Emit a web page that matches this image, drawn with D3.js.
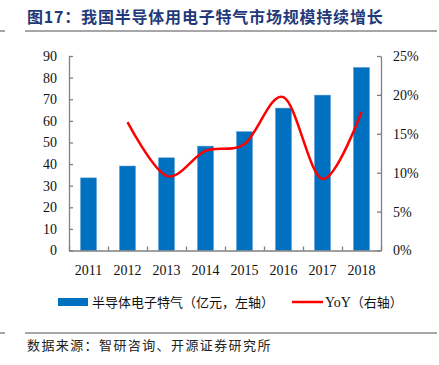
<!DOCTYPE html>
<html><head><meta charset="utf-8">
<script src="https://cdn.jsdelivr.net/npm/d3@7/dist/d3.min.js"></script>
<style>body{margin:0;background:#fff}</style>
</head><body>
<svg id="c" width="439" height="365"></svg>
<script>
const years = ["2011","2012","2013","2014","2015","2016","2017","2018"];
const marketSize = [33.6, 39.1, 42.9, 48.3, 55.0, 65.9, 71.9, 84.7];
const yoyYears = ["2012","2013","2014","2015","2016","2017","2018"];
const yoy = [0.165, 0.096, 0.128, 0.137, 0.197, 0.092, 0.178];
const leftTicks = [0,10,20,30,40,50,60,70,80,90];
const rightTicks = [0,0.05,0.10,0.15,0.20,0.25];

const svg = d3.select("#c");
const serif = "'Liberation Serif','Times New Roman',serif";
const cjk = "'Noto Sans CJK SC','Liberation Serif',serif";
const L = 69, R = 381, T = 56, B = 250.5;

// title
svg.append("text").attr("x",27).attr("y",23).attr("fill","#1F3A7A")
  .attr("font-family",cjk).attr("font-weight","bold").attr("font-size",16)
  .attr("letter-spacing",0.8).text("图17：我国半导体用电子特气市场规模持续增长");
svg.append("line").attr("x1",25).attr("x2",437).attr("y1",31).attr("y2",31).attr("stroke","#888").attr("stroke-width",1.5);
svg.append("line").attr("x1",0).attr("x2",5).attr("y1",31).attr("y2",31).attr("stroke","#888").attr("stroke-width",1.5);
svg.append("line").attr("x1",25).attr("x2",437).attr("y1",333).attr("y2",333).attr("stroke","#888").attr("stroke-width",1.5);
svg.append("line").attr("x1",0).attr("x2",5).attr("y1",333).attr("y2",333).attr("stroke","#888").attr("stroke-width",1.5);
svg.append("text").attr("x",27).attr("y",350).attr("fill","#222")
  .attr("font-family",cjk).attr("font-size",13).attr("letter-spacing",1.4)
  .text("数据来源：智研咨询、开源证券研究所");

const x = d3.scaleBand().domain(years).range([L,R]).paddingInner(0.59).paddingOuter(0.295);
const yL = d3.scaleLinear().domain([0,90]).range([B,T]);
const yR = d3.scaleLinear().domain([0,0.25]).range([B,T]);

// bars
svg.append("g").selectAll("rect").data(marketSize).join("rect")
  .attr("x",(d,i)=>x(years[i])).attr("width",x.bandwidth())
  .attr("y",d=>yL(d)).attr("height",d=>yL(0)-yL(d))
  .attr("fill","#0070C0").attr("stroke","#5B9BD5").attr("stroke-width",0.5);

// axes
const axCol = "#7f7f7f";
const gl = svg.append("g").attr("transform",`translate(${L},0)`)
  .call(d3.axisLeft(yL).tickValues(leftTicks).tickSizeInner(-4).tickSizeOuter(0).tickPadding(12));
const gr = svg.append("g").attr("transform",`translate(${R},0)`)
  .call(d3.axisRight(yR).tickValues(rightTicks).tickSizeInner(-4).tickSizeOuter(0).tickPadding(12).tickFormat(d3.format(".0%")));
const xb = d3.scaleLinear().domain([0,8]).range([L,R]);
const gb = svg.append("g").attr("transform",`translate(0,${B})`)
  .call(d3.axisBottom(xb).tickValues(d3.range(0,9)).tickSizeInner(-4).tickSizeOuter(0).tickFormat(""));
[gl,gr,gb].forEach(g=>{
  g.selectAll("path,line").attr("stroke",axCol).attr("stroke-width",1.3);
  g.selectAll("text").attr("font-family",serif).attr("font-size",14).attr("fill","#111");
});
svg.append("g").selectAll("text").data(years).join("text")
  .attr("x",d=>x(d)+x.bandwidth()/2).attr("y",275).attr("text-anchor","middle")
  .attr("font-family",serif).attr("font-size",14).attr("fill","#111").text(d=>d);

// yoy line
const line = d3.line().curve(d3.curveCardinal.tension(0))
  .x((d,i)=>x(yoyYears[i])+x.bandwidth()/2).y(d=>yR(d));
svg.append("path").datum(yoy).attr("d",line).attr("fill","none")
  .attr("stroke","#FF0000").attr("stroke-width",2.5);

// legend
svg.append("rect").attr("x",58).attr("y",298).attr("width",30).attr("height",8).attr("fill","#0070C0");
svg.append("text").attr("x",92).attr("y",307).attr("font-family",cjk).attr("font-size",13)
  .attr("fill","#111").text("半导体电子特气（亿元，左轴）");
svg.append("line").attr("x1",292).attr("x2",323).attr("y1",302).attr("y2",302)
  .attr("stroke","#FF0000").attr("stroke-width",2.5);
const lt = svg.append("text").attr("x",325).attr("y",307).attr("font-size",13).attr("fill","#111");
lt.append("tspan").attr("font-family",serif).attr("font-size",14).text("YoY");
lt.append("tspan").attr("font-family",cjk).text("（右轴）");
</script>
</body></html>
